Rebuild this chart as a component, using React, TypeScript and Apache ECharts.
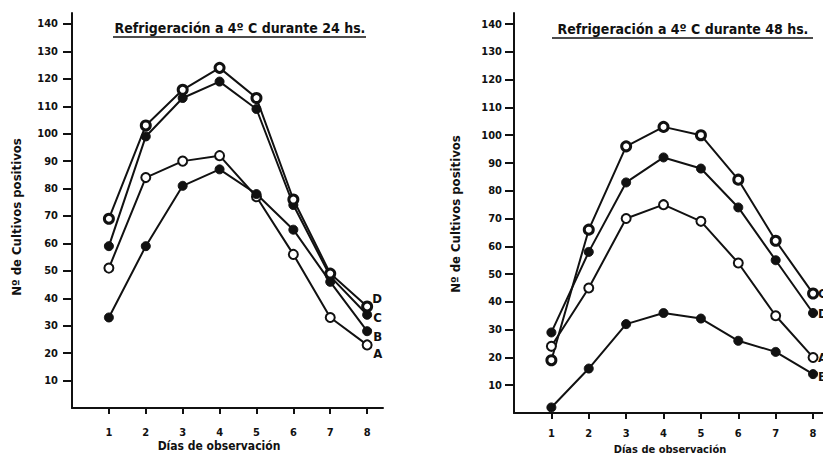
import React, { useEffect, useRef } from "react";
import * as echarts from "echarts";

const days = [1, 2, 3, 4, 5, 6, 7, 8];
const yTicks = [10, 20, 30, 40, 50, 60, 70, 80, 90, 100, 110, 120, 130, 140];
const seriesNames = ["A", "B", "C", "D"];

const titleLeft = "Refrigeración a 4º C durante 24 hs.";
const titleRight = "Refrigeración a 4º C durante 48 hs.";
const yName = "Nº de Cultivos positivos";
const xName = "Días de observación";

// 24 hs
const left24A = [51, 84, 90, 92, 77, 56, 33, 23];
const left24B = [33, 59, 81, 87, 78, 65, 46, 28];
const left24C = [59, 99, 113, 119, 109, 74, 48, 34];
const left24D = [69, 103, 116, 124, 113, 76, 49, 37];

// 48 hs
const right48A = [24, 45, 70, 75, 69, 54, 35, 20];
const right48B = [2, 16, 32, 36, 34, 26, 22, 14];
const right48C = [19, 66, 96, 103, 100, 84, 62, 43];
const right48D = [29, 58, 83, 92, 88, 74, 55, 36];

const FONT = "'DejaVu Sans Condensed', 'DejaVu Sans', sans-serif";
const INK = "#111";

type Mark = "filled" | "open" | "ring";

function markerStyle(kind: Mark) {
  if (kind === "filled") {
    return { symbolSize: 9, itemStyle: { color: INK, borderColor: INK, borderWidth: 1 } };
  }
  if (kind === "ring") {
    return { symbolSize: 9, itemStyle: { color: "#fff", borderColor: INK, borderWidth: 3 } };
  }
  return { symbolSize: 9, itemStyle: { color: "#fff", borderColor: INK, borderWidth: 2 } };
}

function makeSeries(
  name: string,
  values: number[],
  kind: Mark,
  idx: number,
  offset: [number, number]
) {
  const m = markerStyle(kind);
  return {
    type: "line",
    name,
    xAxisIndex: idx,
    yAxisIndex: idx,
    data: days.map((d, i) => [d, values[i]]),
    symbol: "circle",
    symbolSize: m.symbolSize,
    showSymbol: true,
    itemStyle: m.itemStyle,
    lineStyle: { color: INK, width: 2 },
    z: 3,
    endLabel: {
      show: true,
      formatter: name,
      offset,
      color: INK,
      fontFamily: FONT,
      fontWeight: "bold",
      fontSize: 13,
      distance: 2,
    },
  };
}

export default function App() {
  const ref = useRef<HTMLDivElement>(null);

  useEffect(() => {
    if (!ref.current) return;
    const chart = echarts.init(ref.current, undefined, { renderer: "svg" });

    const xAxisBase = (min: number, max: number, margin: number) => ({
      type: "value",
      min,
      max,
      interval: 1,
      axisLine: { show: true, onZero: false, lineStyle: { color: INK, width: 2 } },
      axisTick: { show: true, length: 6, customValues: days, lineStyle: { color: INK, width: 2 } },
      axisLabel: {
        customValues: days,
        margin,
        color: INK,
        fontFamily: FONT,
        fontWeight: "bold",
        fontSize: 11,
      },
      splitLine: { show: false },
    });

    const yAxisBase = (margin: number) => ({
      type: "value",
      min: 0,
      max: 144,
      interval: 10,
      axisLine: { show: true, onZero: false, lineStyle: { color: INK, width: 2 } },
      axisTick: { show: true, length: 9, customValues: yTicks, lineStyle: { color: INK, width: 2 } },
      axisLabel: {
        customValues: yTicks,
        margin,
        color: INK,
        fontFamily: FONT,
        fontWeight: "bold",
        fontSize: 11,
      },
      splitLine: { show: false },
    });

    const textStyle = (size: number) => ({
      fill: INK,
      font: `bold ${size}px ${FONT}`,
    });

    chart.setOption({
      animation: false,
      backgroundColor: "#fff",
      grid: [
        { left: 72, top: 13, width: 311, height: 395 },
        { left: 514, top: 13, width: 317, height: 400 },
      ],
      xAxis: [xAxisBase(0, 8.43, 19), { ...xAxisBase(0, 8.48, 15), gridIndex: 1 }],
      yAxis: [yAxisBase(14), { ...yAxisBase(12), gridIndex: 1 }],
      series: [
        makeSeries(seriesNames[0], left24A, "open", 0, [4, 9]),
        makeSeries(seriesNames[1], left24B, "filled", 0, [4, 5]),
        makeSeries(seriesNames[2], left24C, "filled", 0, [4, 3]),
        makeSeries(seriesNames[3], left24D, "ring", 0, [3, -8]),
        makeSeries(seriesNames[0], right48A, "open", 1, [3, 0]),
        makeSeries(seriesNames[1], right48B, "filled", 1, [3, 2]),
        makeSeries(seriesNames[2], right48C, "ring", 1, [3, 0]),
        makeSeries(seriesNames[3], right48D, "filled", 1, [3, 0]),
      ],
      graphic: [
        {
          type: "text",
          x: 240,
          y: 28,
          style: { ...textStyle(14), text: titleLeft, align: "center", verticalAlign: "middle" },
        },
        { type: "line", shape: { x1: 113, y1: 37, x2: 366, y2: 37 }, style: { stroke: INK, lineWidth: 1.5 } },
        {
          type: "text",
          x: 683,
          y: 29,
          style: { ...textStyle(14), text: titleRight, align: "center", verticalAlign: "middle" },
        },
        { type: "line", shape: { x1: 552, y1: 38, x2: 813, y2: 38 }, style: { stroke: INK, lineWidth: 1.5 } },
        {
          type: "text",
          x: 219,
          y: 446,
          style: { ...textStyle(12), text: xName, align: "center", verticalAlign: "middle" },
        },
        {
          type: "text",
          x: 670,
          y: 449,
          style: { ...textStyle(11), text: xName, align: "center", verticalAlign: "middle" },
        },
        {
          type: "text",
          x: 16,
          y: 217,
          rotation: Math.PI / 2,
          style: { ...textStyle(13), text: yName, align: "center", verticalAlign: "middle" },
        },
        {
          type: "text",
          x: 455,
          y: 214,
          rotation: Math.PI / 2,
          style: { ...textStyle(13), text: yName, align: "center", verticalAlign: "middle" },
        },
      ],
    });

    return () => chart.dispose();
  }, []);

  return <div ref={ref} style={{ width: 831, height: 461, margin: -8 }} />;
}
